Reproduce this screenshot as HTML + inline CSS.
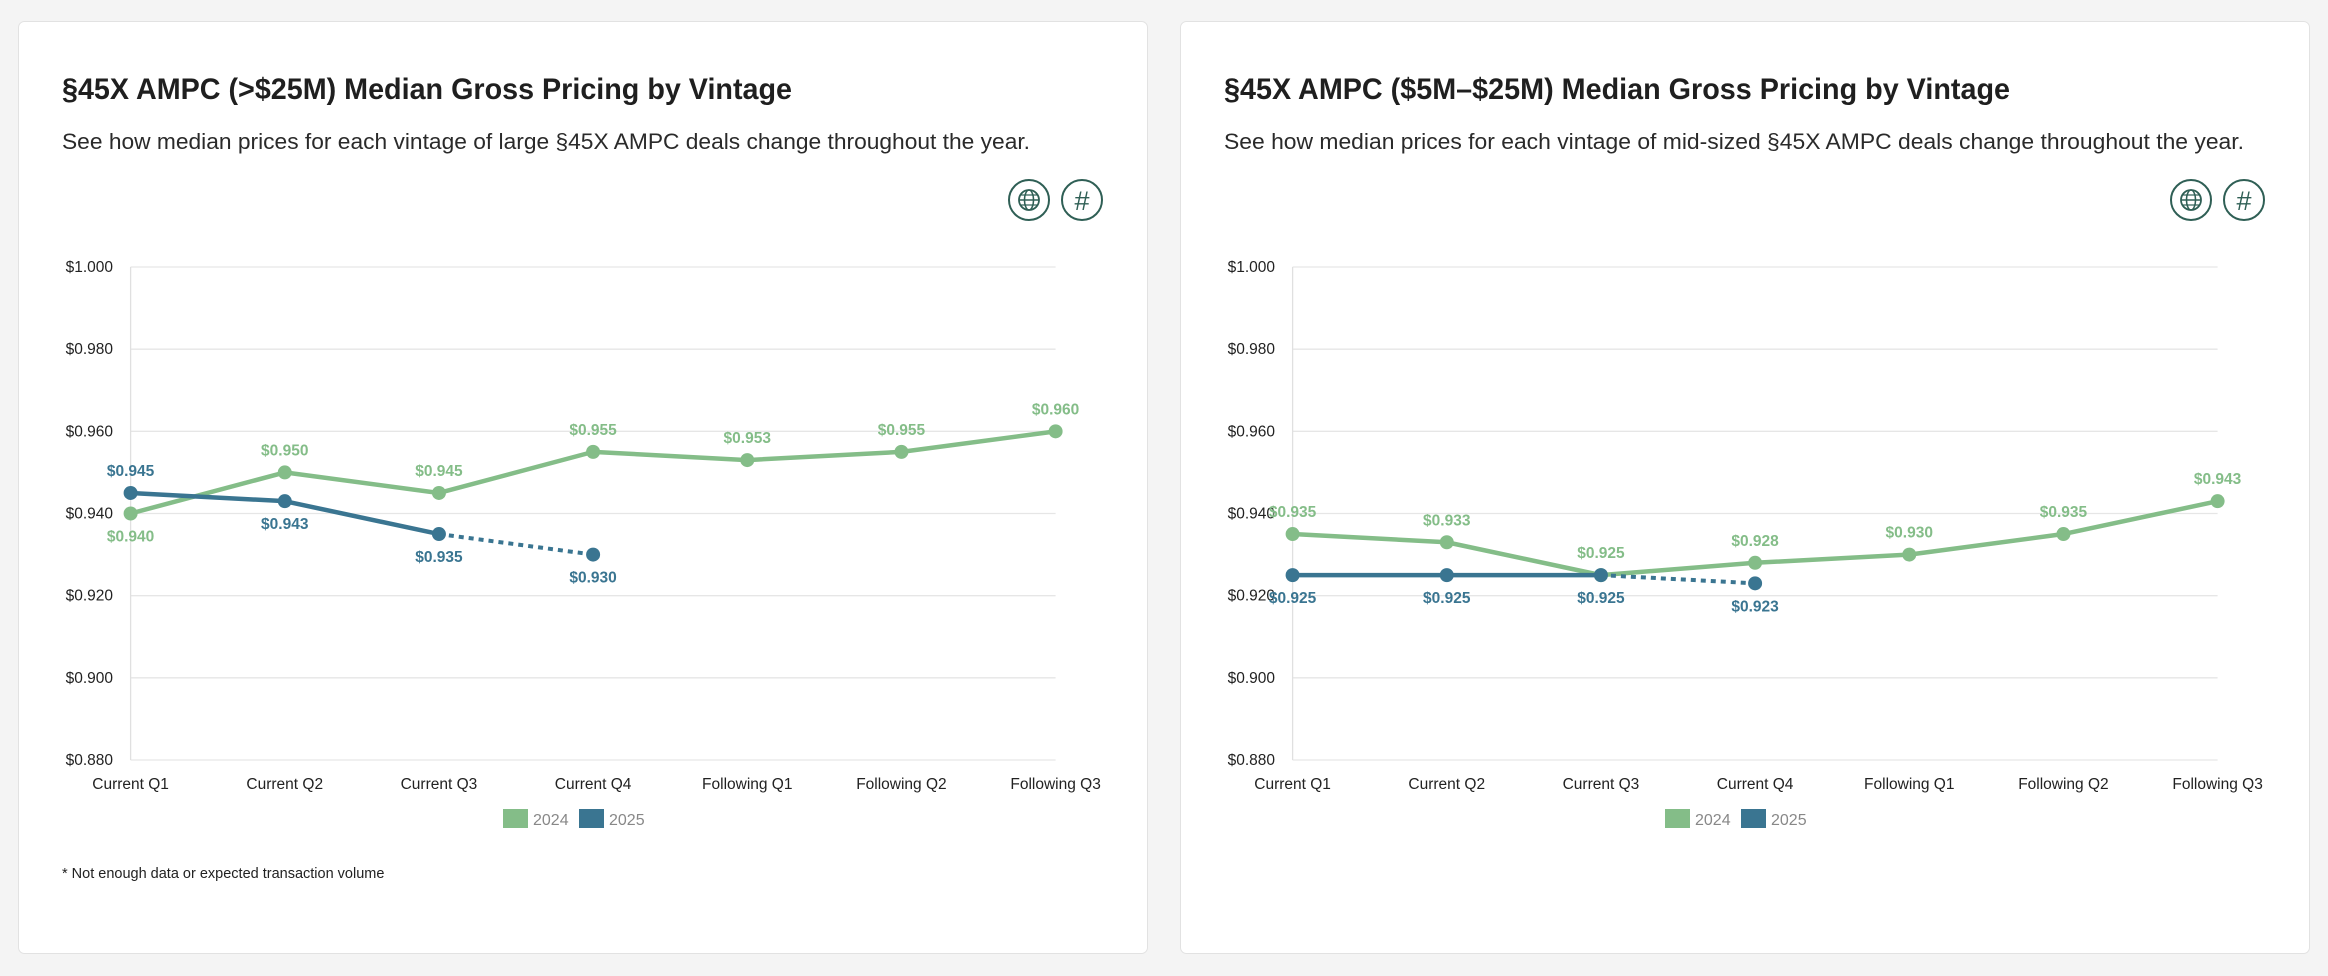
<!DOCTYPE html>
<html><head><meta charset="utf-8"><style>
html,body{margin:0;padding:0;background:#f4f4f4;}
svg{display:block;font-family:"Liberation Sans",sans-serif;}
</style></head><body>
<svg id="s" width="2328" height="976" viewBox="0 0 2328 976"></svg>
<script>
const categories=["Current Q1","Current Q2","Current Q3","Current Q4","Following Q1","Following Q2","Following Q3"];
const yTicks=[1.000,0.980,0.960,0.940,0.920,0.900,0.880];
const left2024=[0.940,0.950,0.945,0.955,0.953,0.955,0.960];
const left2025=[0.945,0.943,0.935,0.930];
const right2024=[0.935,0.933,0.925,0.928,0.930,0.935,0.943];
const right2025=[0.925,0.925,0.925,0.923];
const leftLabelPos2024=["below","above","above","above","above","above","above"];
const leftLabelPos2025=["above","below","below","below"];
const rightLabelPos2024=["above","above","above","above","above","above","above"];
const rightLabelPos2025=["below","below","below","below"];

const NS="http://www.w3.org/2000/svg";
const svg=document.getElementById('s');
const G="#84bd88",B="#3a7591";
function el(tag,attrs,parent,text){const e=document.createElementNS(NS,tag);for(const k in attrs)e.setAttribute(k,attrs[k]);if(text!==undefined)e.textContent=text;(parent||svg).appendChild(e);return e;}

function card(ox,title,sub,tw,sw,s24,s25,p24,p25,foot,name){
  const g=el('g',{transform:`translate(${ox},0)`});
  
  
  const r=el('rect',{x:18.5,y:21.5,width:1129,height:932,rx:6,fill:'#fff',stroke:'#e2e2e2'},g);
  
  
  const t=el('text',{x:62,y:99,'font-size':30,'font-weight':'bold',fill:'#1f1f1f',textLength:tw,lengthAdjust:'spacingAndGlyphs'},g,title);
  
  
  const st=el('text',{x:62,y:149,'font-size':22,fill:'#2a2a2a',textLength:sw,lengthAdjust:'spacingAndGlyphs'},g,sub);
  
  
  // icons
  const ic1=el('g',{},g);
  
  
  el('circle',{cx:1029,cy:200,r:20,fill:'#fff',stroke:'#2f5f55','stroke-width':2},ic1);
  el('circle',{cx:1029,cy:200,r:10,fill:'none',stroke:'#2f5f55','stroke-width':1.8},ic1);
  el('ellipse',{cx:1029,cy:200,rx:4.5,ry:10,fill:'none',stroke:'#2f5f55','stroke-width':1.5},ic1);
  el('line',{x1:1019,y1:200,x2:1039,y2:200,stroke:'#2f5f55','stroke-width':1.5},ic1);
  el('line',{x1:1021,y1:195,x2:1037,y2:195,stroke:'#2f5f55','stroke-width':1.2},ic1);
  el('line',{x1:1021,y1:205,x2:1037,y2:205,stroke:'#2f5f55','stroke-width':1.2},ic1);
  const ic2=el('g',{},g);
  
  
  el('circle',{cx:1082,cy:200,r:20,fill:'#fff',stroke:'#2f5f55','stroke-width':2},ic2);
  el('text',{x:1082,y:210,'font-size':27,'text-anchor':'middle',fill:'#2f5f55'},ic2,'#');
  // axes
  const x0=130.6,x1=1055.6,yTop=267,yBot=760;
  const xs=i=>x0+i*(x1-x0)/(categories.length-1);
  const ys=v=>yBot-(v-0.880)/(1.000-0.880)*(yBot-yTop);
  yTicks.forEach(v=>{
    const gl=el('line',{x1:x0,x2:x1,y1:ys(v),y2:ys(v),stroke:'#e6e6e6','stroke-width':1.3},g);
    
    
    const tl=el('text',{x:113,y:ys(v)+5,'font-size':15.5,'text-anchor':'end',fill:'#222'},g,'$'+v.toFixed(3));
    
    
  });
  const ax=el('line',{x1:x0,x2:x0,y1:yTop,y2:yBot,stroke:'#e0e0e0','stroke-width':1.3},g);
  
  
  categories.forEach((c,i)=>{
    const xl=el('text',{x:xs(i),y:789,'font-size':15.5,'text-anchor':'middle',fill:'#222'},g,c);
    
    
  });
  function series(vals,col,pos,dashLast,nm){
    const sg=el('g',{},g);
    
    
    for(let i=0;i<vals.length-1;i++){
      const dashed=dashLast&&i===vals.length-2;
      const a={x1:xs(i),y1:ys(vals[i]),x2:xs(i+1),y2:ys(vals[i+1]),stroke:col,'stroke-width':dashed?4:4.5,'stroke-linecap':dashed?'butt':'round'};
      if(dashed)a['stroke-dasharray']='5 5';
      const ln=el('line',a,sg);
      
      
    }
    vals.forEach((v,i)=>{
      const c=el('circle',{cx:xs(i),cy:ys(v),r:7,fill:col},sg);
      
      
      const dy=pos[i]==='above'?-17:28;
      const lb=el('text',{x:xs(i),y:ys(v)+dy,'font-size':15.5,'font-weight':'bold','text-anchor':'middle',fill:col},sg,'$'+v.toFixed(3));
      
      
    });
  }
  series(s24,G,p24,false,'series-2024');
  series(s25,B,p25,true,'series-2025');
  // legend
  const lg=el('g',{},g);
  
  
  el('rect',{x:503,y:809,width:25,height:19,fill:G},lg);
  el('text',{x:533,y:825,'font-size':16,fill:'#888'},lg,'2024');
  el('rect',{x:579,y:809,width:25,height:19,fill:B},lg);
  el('text',{x:609,y:825,'font-size':16,fill:'#888'},lg,'2025');
  if(foot){
    const f=el('text',{x:62,y:878,'font-size':14.5,fill:'#222'},g,foot);
    
    
  }
}
card(0,"§45X AMPC (>$25M) Median Gross Pricing by Vintage","See how median prices for each vintage of large §45X AMPC deals change throughout the year.",730,968,left2024,left2025,leftLabelPos2024,leftLabelPos2025,"* Not enough data or expected transaction volume","card-large-deals");
card(1162,"§45X AMPC ($5M–$25M) Median Gross Pricing by Vintage","See how median prices for each vintage of mid-sized §45X AMPC deals change throughout the year.",786,1020,right2024,right2025,rightLabelPos2024,rightLabelPos2025,null,"card-mid-deals");
</script>
</body></html>
